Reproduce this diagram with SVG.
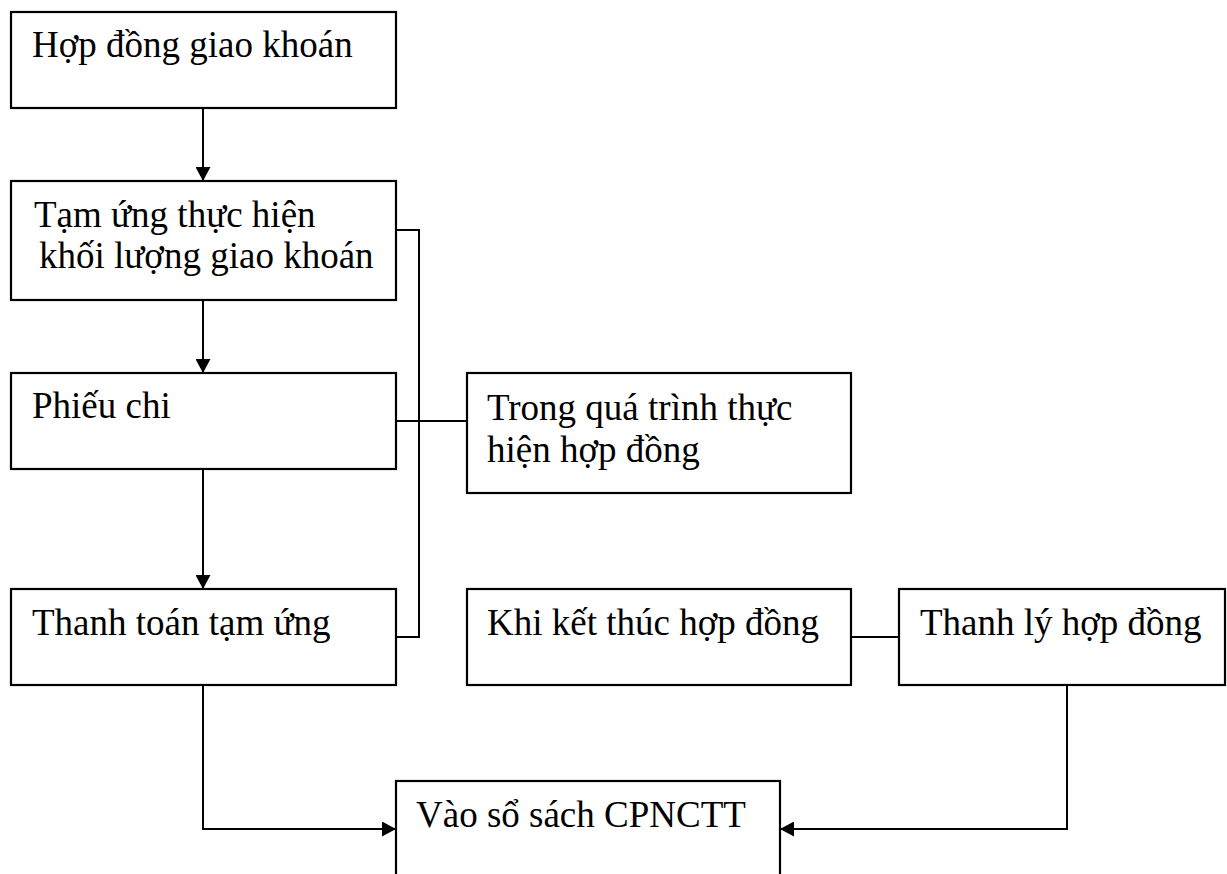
<svg xmlns="http://www.w3.org/2000/svg" width="1227" height="874" viewBox="0 0 1227 874">
<style>
.box{fill:#fff;stroke:#000;stroke-width:2.2}
.t{font-family:"Liberation Serif","Times New Roman",serif;font-size:37px;fill:#000}
.c{fill:none;stroke:#000;stroke-width:2}
</style>
<defs>
<marker id="ah" viewBox="0 0 14 15" refX="14" refY="7.5" markerWidth="14" markerHeight="15" markerUnits="userSpaceOnUse" orient="auto">
<path d="M0,0 L14,7.5 L0,15 Z" fill="#000"/>
</marker>
</defs>
<rect width="1227" height="874" fill="#fff"/>
<g id="connectors">
<line class="c" x1="203" y1="108" x2="203" y2="181" marker-end="url(#ah)"/>
<line class="c" x1="203" y1="300" x2="203" y2="373" marker-end="url(#ah)"/>
<line class="c" x1="203" y1="469" x2="203" y2="589" marker-end="url(#ah)"/>
<polyline class="c" points="396,230 419,230 419,637 396,637"/>
<line class="c" x1="396" y1="421" x2="467" y2="421"/>
<line class="c" x1="851" y1="637" x2="899" y2="637"/>
<polyline class="c" points="203,685 203,829 396,829" marker-end="url(#ah)"/>
<polyline class="c" points="1067,685 1067,829 780,829" marker-end="url(#ah)"/>
</g>
<g id="n1"><rect class="box" x="11" y="12" width="385" height="96"/><text class="t" x="32" y="57">Hợp đồng giao khoán</text></g>
<g id="n2"><rect class="box" x="11" y="181" width="385" height="119"/><text class="t" x="34" y="227">Tạm ứng thực hiện</text><text class="t" x="39" y="268">khối lượng giao khoán</text></g>
<g id="n3"><rect class="box" x="11" y="373" width="385" height="96"/><text class="t" x="32" y="418">Phiếu chi</text></g>
<g id="n4"><rect class="box" x="11" y="589" width="385" height="96"/><text class="t" x="32" y="635">Thanh toán tạm ứng</text></g>
<g id="n5"><rect class="box" x="467" y="373" width="384" height="120"/><text class="t" x="487" y="420">Trong quá trình thực</text><text class="t" x="487" y="462">hiện hợp đồng</text></g>
<g id="n6"><rect class="box" x="467" y="589" width="384" height="96"/><text class="t" x="487" y="635">Khi kết thúc hợp đồng</text></g>
<g id="n7"><rect class="box" x="899" y="589" width="326" height="96"/><text class="t" x="920" y="635">Thanh lý hợp đồng</text></g>
<g id="n8"><rect class="box" x="396" y="781" width="384" height="100"/><text class="t" x="416" y="827">Vào sổ sách CPNCTT</text></g>
</svg>
